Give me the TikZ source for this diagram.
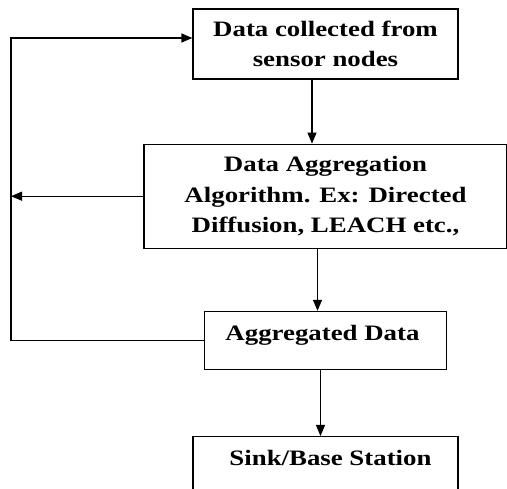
\documentclass[tikz,border=0pt]{standalone}
\usepackage{fontspec}
\setmainfont{Liberation Serif}[FakeStretch=1.22]
\usetikzlibrary{positioning,arrows.meta}

\tikzset{
    block/.style={draw, line width=1.2pt, inner sep=0pt, align=center,
        font=\bfseries\fontsize{22}{30.5}\selectfont},
    flow/.style={line width=1.2pt, -{Triangle[length=11pt,width=9pt]}},
}

\begin{document}
\begin{tikzpicture}[x=1pt, y=-1pt]
    \useasboundingbox (0,0) rectangle (507,489);
    \node [block, minimum width=265pt, minimum height=70pt] (collect) at (325.5,44)
        {Data collected from\\sensor nodes};
    \node [block, minimum width=363pt, minimum height=104pt, below=64pt of collect] (algo)
        {Data Aggregation\\Algorithm. Ex: Directed\\Diffusion, LEACH etc.,};
    \node [block, minimum width=242pt, minimum height=58pt, text height=15pt, text depth=15pt,
        below=62pt of algo] (aggr) {Aggregated Data\hspace*{6pt}};
    \node [block, minimum width=265pt, minimum height=54pt, text height=15pt, text depth=11pt,
        below=66pt of aggr] (sink) {\hspace*{10pt}Sink/Base Station};
    \coordinate (rail) at (11,0);

    % main flow downwards
    \draw [flow] ([xshift=-13.5pt]collect.south) -- ([xshift=-13.5pt]collect.south |- algo.north);
    \draw [flow] ([xshift=-8pt]algo.south) -- ([xshift=-8pt]algo.south |- aggr.north);
    \draw [flow] ([xshift=-5pt]aggr.south) -- ([xshift=-5pt]aggr.south |- sink.north);

    % feedback on the left
    \draw [flow] (algo.west) -- (algo.west -| rail);
    \draw [flow] (aggr.west) -| ([yshift=6pt]collect.west -| rail) -- ([yshift=6pt]collect.west);
\end{tikzpicture}
\end{document}
